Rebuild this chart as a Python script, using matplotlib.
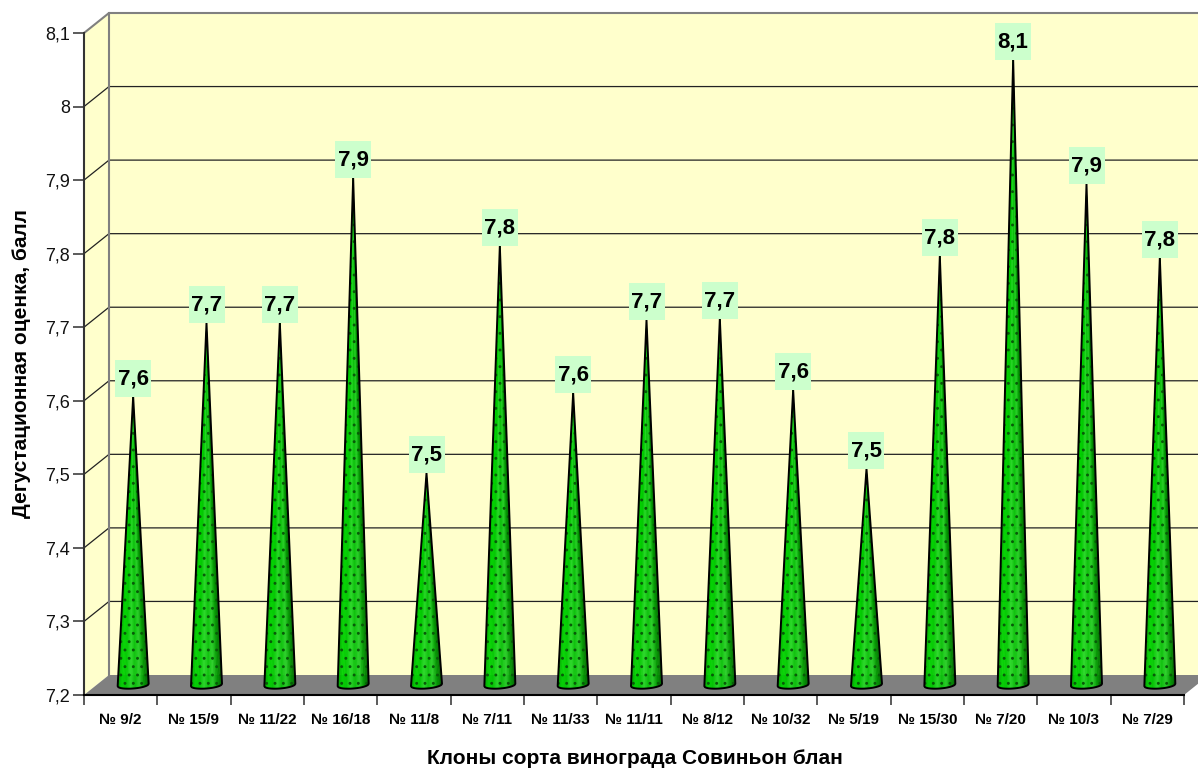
import numpy as np
import matplotlib
matplotlib.use('Agg')
import matplotlib.pyplot as plt
from matplotlib.collections import PolyCollection
from matplotlib.colors import LinearSegmentedColormap
from matplotlib.patches import Polygon, Rectangle

plt.rcParams['font.family'] = ['Liberation Sans', 'DejaVu Sans']
plt.rcParams['hatch.linewidth'] = 0.9

clones = ['№ 9/2', '№ 15/9', '№ 11/22', '№ 16/18', '№ 11/8', '№ 7/11', '№ 11/33',
          '№ 11/11', '№ 8/12', '№ 10/32', '№ 5/19', '№ 15/30', '№ 7/20', '№ 10/3', '№ 7/29']
scores = [7.592, 7.692, 7.692, 7.889, 7.488, 7.797, 7.597, 7.696,
          7.698, 7.601, 7.494, 7.783, 8.050, 7.881, 7.781]
score_labels = ['7,6', '7,7', '7,7', '7,9', '7,5', '7,8', '7,6', '7,7',
                '7,7', '7,6', '7,5', '7,8', '8,1', '7,9', '7,8']
y_ticks = [7.2, 7.3, 7.4, 7.5, 7.6, 7.7, 7.8, 7.9, 8.0, 8.1]
y_tick_labels = ['7,2', '7,3', '7,4', '7,5', '7,6', '7,7', '7,8', '7,9', '8', '8,1']

W, H = 1198, 769
fig = plt.figure(figsize=(W / 100, H / 100), dpi=100)
# front plane of the fake 3d box
left, right, top, bottom = 84, 1184, 33, 695
ax = fig.add_axes([left / W, 1 - bottom / H, (right - left) / W, (bottom - top) / H])
ax.set_xlim(0, 15)
ax.set_ylim(7.2, 8.1)
ax.patch.set_visible(False)

px = 15 / (right - left)
py = 0.9 / (bottom - top)
dx, dy = 25 * px, 20 * py
wall = '#FFFFCC'
edge = '#808080'

ax.add_patch(Polygon([(dx, 7.2 + dy), (15 + dx, 7.2 + dy), (15 + dx, 8.1 + dy), (dx, 8.1 + dy)],
                     fc=wall, ec='none', clip_on=False, zorder=1))
ax.add_patch(Polygon([(0, 7.2), (dx, 7.2 + dy), (dx, 8.1 + dy), (0, 8.1)],
                     fc=wall, ec='none', clip_on=False, zorder=1))
ax.add_patch(Polygon([(0, 7.2), (15, 7.2), (15 + dx, 7.2 + dy), (dx, 7.2 + dy)],
                     fc=edge, ec='none', clip_on=False, zorder=1))

for t in y_ticks[1:-1]:
    ax.plot([0, dx, 15 + dx], [t, t + dy, t + dy], color='#222222', lw=0.9, clip_on=False, zorder=2)
ax.plot([0, dx, 15 + dx], [8.1, 8.1 + dy, 8.1 + dy], color=edge, lw=1.5, clip_on=False, zorder=2)
ax.plot([dx, dx], [7.2 + dy, 8.1 + dy], color=edge, lw=1.5, clip_on=False, zorder=2)

# cones, each one a fan of thin slices so the shading runs across it
cmap = LinearSegmentedColormap.from_list(
    'cone', ['#00a000', '#00d400', '#00c800', '#28d828', '#08c008', '#28d028', '#009800', '#006800'])
half_w = 15.5 * px
depth = 3.5 * py
tilt = 1.2 * py
cone_dx, cone_dy = 12.5 * px, 10 * py
n_slices = 48
edges_u = np.linspace(-1, 1, n_slices + 1)
bw, bh = 36 * px, 37 * py
for i, v in enumerate(scores):
    xc = i + 0.5 + cone_dx
    y0 = 7.2 + cone_dy
    tip = v + cone_dy
    rim_x = xc + half_w * edges_u
    rim_y = y0 - depth * np.sqrt(1 - edges_u ** 2) + tilt * edges_u
    slices = [[(xc, tip), (rim_x[k], rim_y[k]), (rim_x[k + 1], rim_y[k + 1])] for k in range(n_slices)]
    fan = PolyCollection(slices, array=(np.arange(n_slices) + 0.5) / n_slices, cmap=cmap,
                         clim=(0, 1), edgecolors='face', linewidths=0.3, alpha=0.93, zorder=3)
    ax.add_collection(fan)
    outline = [(xc, tip)] + list(zip(rim_x[::-1], rim_y[::-1]))
    ax.add_patch(Polygon(outline, closed=True, fc='none', ec='#085a08', hatch='..', lw=0, zorder=4))
    ax.add_patch(Polygon(outline, closed=True, fc='none', ec='black', lw=1.4, joinstyle='round', zorder=5))

    # label box sits right on the tip
    ax.add_patch(Rectangle((xc - bw / 2, tip), bw, bh, fc='#CCFFCC', ec='none', zorder=6, clip_on=False))
    ax.text(xc, tip + bh * 0.49, score_labels[i], ha='center', va='center', fontsize=16,
            fontweight='bold', color='black', zorder=7, clip_on=False)

ax.set_xticks(np.arange(16))
ax.set_xticklabels([])
ax.set_yticks(y_ticks)
ax.set_yticklabels(y_tick_labels, fontsize=13)
ax.tick_params(axis='y', length=8, width=1.2, color='#404040', pad=2, labelcolor='#111111')
ax.tick_params(axis='x', length=7.5, width=1.2, color='#404040')
for s in ['top', 'right']:
    ax.spines[s].set_visible(False)
ax.spines['left'].set_color('#333333')
ax.spines['left'].set_linewidth(1.5)
ax.spines['bottom'].set_color('black')
ax.spines['bottom'].set_linewidth(1.5)
ax.spines['left'].set_zorder(8)
ax.spines['bottom'].set_zorder(8)

for i, name in enumerate(clones):
    ax.annotate(name, (i + 0.5, 7.2), xytext=(0, -24.5), textcoords='offset pixels', ha='center',
                va='center', fontsize=11, fontweight='bold', annotation_clip=False)

fig.text(635 / W, 1 - 758 / H, 'Клоны сорта винограда Совиньон блан', ha='center', va='center',
         fontsize=15, fontweight='bold')
fig.text(21.5 / W, 1 - 364 / H, 'Дегустационная оценка, балл', ha='center', va='center',
         rotation=90, fontsize=15, fontweight='bold')

fig.savefig('out.png', dpi=100)
